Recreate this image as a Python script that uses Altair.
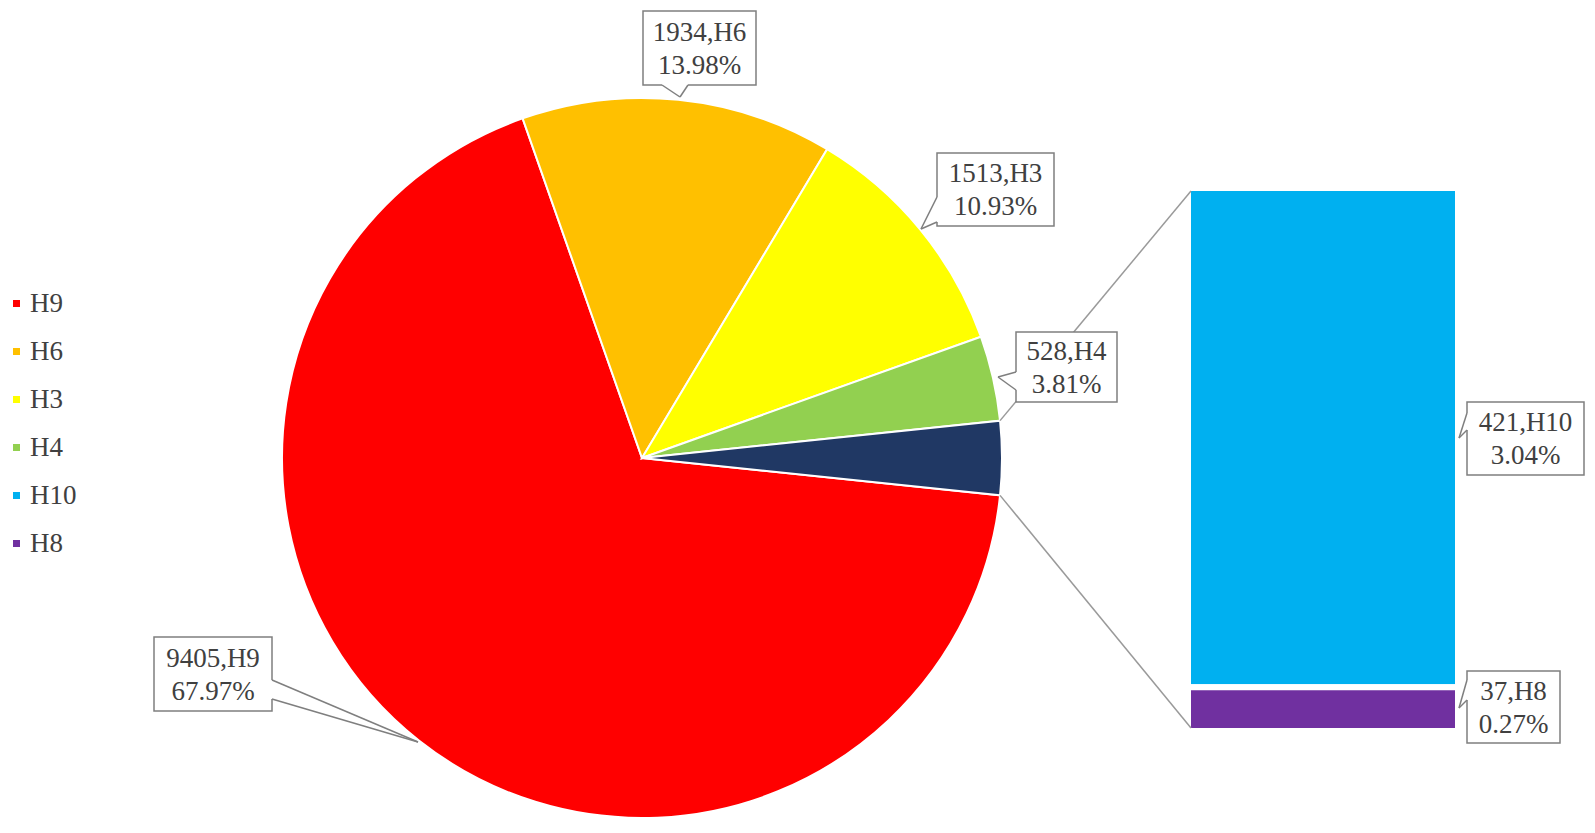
import math
import altair as alt
import pandas as pd

# ---- data ----
pie_names = ["H9", "H6", "H3", "H4"]
pie_values = [9405, 1934, 1513, 528]
bar_names = ["H10", "H8"]
bar_values = [421, 37]
pct_text = ["67.97%", "13.98%", "10.93%", "3.81%", "3.04%", "0.27%"]
legend_names = ["H9", "H6", "H3", "H4", "H10", "H8"]
colors = ["#FF0000", "#FFC000", "#FFFF00", "#92D050", "#00B0F0", "#7030A0", "#203864"]

other_value = sum(bar_values)
all_pie_names = pie_names + ["Other"]
all_pie_values = pie_values + [other_value]
total = sum(all_pie_values)

pie_df = pd.DataFrame({"name": all_pie_names, "value": all_pie_values,
                       "order": list(range(len(all_pie_names)))})
bar_df = pd.DataFrame({"name": bar_names, "value": bar_values,
                       "order": [1, 0]})

# ---- layout ----
W, H = 1579, 817
CX, CY, R = 634, 450, 360
other_deg = other_value / total * 360
start_deg = 90 + other_deg / 2
start = math.radians(start_deg)

BX0, BX1 = 1180, 1450
BY_BOT, BY_TOP = 723, 180
STROKE_BAR = 6

FONT = "Liberation Serif"
TXT = "#404040"
BOX = "#7f7f7f"
LINE = "#9a9a9a"
FS = 27
LH = 33

color_scale = alt.Scale(domain=legend_names + ["Other"], range=colors)
leg = alt.Legend(values=legend_names, title=None, orient="none",
                 legendX=-5, legendY=282, symbolType="square", symbolSize=49,
                 symbolStrokeWidth=0, labelFont=FONT, labelFontSize=27,
                 labelColor=TXT, rowPadding=20, labelOffset=0, padding=0)

pie = alt.Chart(pie_df).mark_arc(radius=R, stroke="white", strokeWidth=2).encode(
    theta=alt.Theta("value:Q", stack=True,
                    scale=alt.Scale(domain=[0, total], range=[start, start + 2 * math.pi])),
    color=alt.Color("name:N", scale=color_scale, legend=leg),
    order=alt.Order("order:Q"),
    x=alt.value(CX), y=alt.value(CY),
)

bar = alt.Chart(bar_df).transform_stack(
    stack="value", groupby=[], as_=["v0", "v1"], sort=[alt.SortField("order")]
).mark_rect(stroke="white", strokeWidth=STROKE_BAR).encode(
    x=alt.value(BX0), x2=alt.value(BX1),
    y=alt.Y("v0:Q", scale=alt.Scale(domain=[0, other_value], range=[BY_BOT, BY_TOP]), axis=None),
    y2="v1:Q",
    color=alt.Color("name:N", scale=color_scale, legend=leg),
)

dummy = pd.DataFrame({"a": [0]})
layers = [pie, bar]


def rule(x1, y1, x2, y2, color, width):
    return alt.Chart(dummy).mark_rule(color=color, strokeWidth=width).encode(
        x=alt.value(x1), y=alt.value(y1), x2=alt.value(x2), y2=alt.value(y2))


# connector lines: from the "Other" slice edges to the bar corners
a_top = math.radians(start_deg - other_deg)
a_bot = math.radians(start_deg)
p_top = (CX + R * math.sin(a_top), CY - R * math.cos(a_top))
p_bot = (CX + R * math.sin(a_bot), CY - R * math.cos(a_bot))
h = STROKE_BAR / 2
layers.append(rule(p_top[0], p_top[1], BX0 + h, BY_TOP + h, LINE, 1.5))
layers.append(rule(p_bot[0], p_bot[1], BX0 + h, BY_BOT - h, LINE, 1.5))

# callout labels: box (x0,x1,y0,y1), pointer base points, tip
label_names = pie_names + bar_names
label_values = pie_values + bar_values
callouts = [
    # H9
    dict(box=(146, 264, 629, 703), base=((264, 672), (264, 691)), tip=(410, 734)),
    # H6
    dict(box=(635, 748, 3, 77), base=((654, 77), (680, 77)), tip=(672, 89)),
    # H3
    dict(box=(929, 1046, 145, 218), base=((929, 189), (929, 214)), tip=(913, 221)),
    # H4
    dict(box=(1008, 1109, 324, 394), base=((1008, 364), (1008, 382)), tip=(990, 369)),
    # H10
    dict(box=(1459, 1576, 394, 467), base=((1459, 405), (1459, 422)), tip=(1451, 430)),
    # H8
    dict(box=(1459, 1552, 663, 735), base=((1459, 672), (1459, 692)), tip=(1451, 700)),
]

for name, val, pct, c in zip(label_names, label_values, pct_text, callouts):
    x0, x1, y0, y1 = c["box"]
    (bx1, by1), (bx2, by2) = c["base"]
    tx, ty = c["tip"]
    layers.append(alt.Chart(dummy).mark_rect(fill="white", stroke=BOX, strokeWidth=1.5).encode(
        x=alt.value(x0), x2=alt.value(x1), y=alt.value(y0), y2=alt.value(y1)))
    layers.append(rule(bx1, by1, bx2, by2, "white", 3))
    layers.append(rule(bx1, by1, tx, ty, BOX, 1.5))
    layers.append(rule(bx2, by2, tx, ty, BOX, 1.5))
    layers.append(alt.Chart(dummy).mark_text(
        text=f"{val},{name}\n{pct}", lineBreak="\n", font=FONT, fontSize=FS,
        lineHeight=LH, color=TXT, align="center", baseline="middle").encode(
        x=alt.value((x0 + x1) / 2), y=alt.value((y0 + y1) / 2 + 1 - LH / 2)))

chart = alt.layer(*layers).properties(
    width=W, height=H, padding=0, autosize=alt.AutoSizeParams(type="none"),
    background="white",
).configure_view(stroke=None)

chart.save("out.html", embed_options={"renderer": "svg", "actions": False})
